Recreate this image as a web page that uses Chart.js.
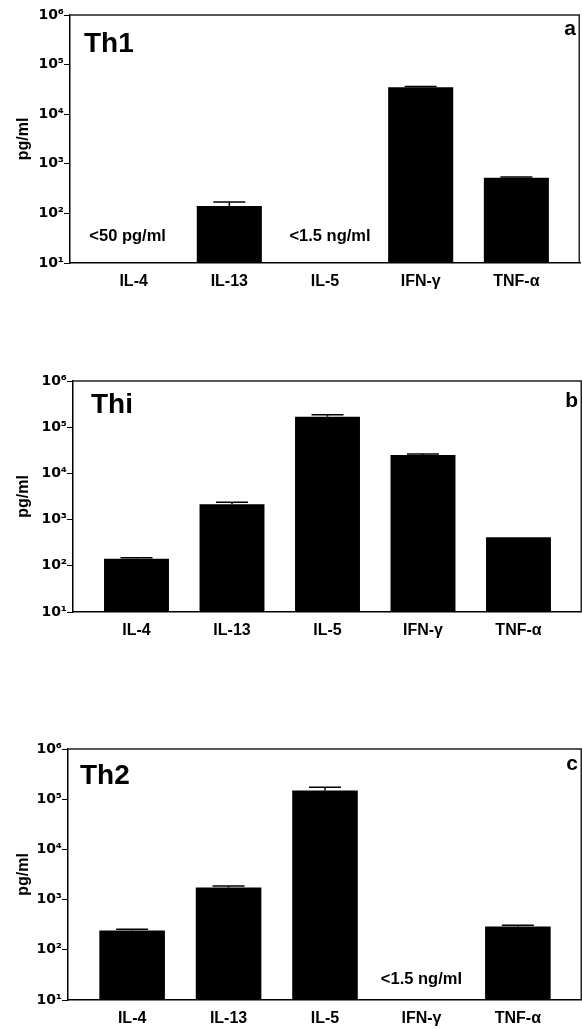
<!DOCTYPE html>
<html><head><meta charset="utf-8">
<script src="https://cdn.jsdelivr.net/npm/chart.js@4"></script>
<style>
html,body{margin:0;padding:0;background:#fff;}
#wrap{position:relative;width:582px;height:1029px;overflow:hidden;background:#fff;}
canvas{position:absolute;left:0;top:0;}
</style></head><body>
<div id="wrap">
<canvas id="ca" width="582" height="1029"></canvas>
<canvas id="cb" width="582" height="1029"></canvas>
<canvas id="cc" width="582" height="1029"></canvas>
</div>
<script>
const categories = ['IL-4', 'IL-13', 'IL-5', 'IFN-γ', 'TNF-α'];
const yTickValues = [10, 100, 1000, 10000, 100000, 1000000];
const yTickLabels = ['10¹', '10²', '10³', '10⁴', '10⁵', '10⁶'];

const th1Values = [null, 141, null, 34800, 525];
const th1Errors = [null, 170, null, 36300, 542];
const th1Notes = [[0, '<50 pg/ml'], [2, '<1.5 ng/ml']];

const thiValues = [142, 2150, 168000, 24900, 417];
const thiErrors = [150, 2380, 185000, 26200, null];
const thiNotes = [];

const th2Values = [241, 1745, 148600, null, 290];
const th2Errors = [257, 1860, 173000, null, 309];
const th2Notes = [[3, '<1.5 ng/ml']];

const FONT = "'Liberation Sans', Arial, Helvetica, sans-serif";
const TICKFONT = "'DejaVu Sans', 'Liberation Sans', sans-serif";
Chart.defaults.font.family = FONT;
Chart.defaults.font.weight = 'bold';
Chart.defaults.color = '#000';

function makePanel(id, values, errors, notes, title, letter, g) {
  const data = values.map((v, i) => ({ x: i, y: v }));
  const deco = {
    id: 'deco' + id,
    afterDatasetsDraw(chart) {
      const ctx = chart.ctx;
      const ys = chart.scales.y;
      const meta = chart.getDatasetMeta(0);
      ctx.save();
      ctx.strokeStyle = '#000';
      ctx.lineWidth = 1.5;
      errors.forEach((e, i) => {
        if (e == null || values[i] == null) return;
        const el = meta.data[i];
        const yc = ys.getPixelForValue(e);
        ctx.beginPath();
        ctx.moveTo(el.x, el.y);
        ctx.lineTo(el.x, yc);
        ctx.moveTo(el.x - 16, yc);
        ctx.lineTo(el.x + 16, yc);
        ctx.stroke();
      });
      ctx.restore();
    },
    afterDraw(chart) {
      const ctx = chart.ctx;
      const a = chart.chartArea;
      const xs = chart.scales.x;
      ctx.save();
      ctx.strokeStyle = '#222';
      ctx.lineWidth = 1.5;
      ctx.beginPath();
      ctx.moveTo(a.left, a.top);
      ctx.lineTo(a.right - 0.75, a.top);
      ctx.lineTo(a.right - 0.75, a.bottom);
      ctx.stroke();
      ctx.fillStyle = '#000';
      ctx.font = 'bold 28px ' + FONT;
      ctx.textAlign = 'left';
      ctx.textBaseline = 'alphabetic';
      ctx.fillText(title, g.tx, g.ty);
      ctx.font = 'bold 21px ' + FONT;
      ctx.textAlign = 'right';
      ctx.fillText(letter, g.lx, g.ly);
      ctx.font = 'bold 16.5px ' + FONT;
      ctx.textAlign = 'center';
      ctx.textBaseline = 'middle';
      notes.forEach((n, k) => {
        ctx.fillText(n[1], xs.getPixelForValue(n[0]) + g.ndx[k], a.bottom - g.ndy);
      });
      ctx.restore();
    }
  };
  return new Chart(document.getElementById(id), {
    type: 'bar',
    data: { datasets: [{ data, backgroundColor: '#000', borderWidth: 0, barPercentage: 0.68, categoryPercentage: 1 }] },
    options: {
      responsive: false, animation: false, devicePixelRatio: 1,
      layout: { padding: { left: 0, top: g.top, right: 582 - g.right, bottom: 1029 - g.bottom - g.xh } },
      plugins: { legend: { display: false }, tooltip: { enabled: false } },
      scales: {
        x: {
          type: 'linear', min: -0.665, max: 4.665, offset: false,
          grid: { display: false, drawTicks: false },
          border: { display: true, color: '#000', width: 1.5 },
          afterBuildTicks: s => { s.ticks = categories.map((c, i) => ({ value: i })); },
          afterFit: s => { s.height = g.xh; },
          ticks: { callback: v => categories[v], color: '#000', font: { size: 16, weight: 'bold' }, padding: 9, maxRotation: 0, autoSkip: false }
        },
        y: {
          type: 'logarithmic', min: 10, max: 1000000,
          afterBuildTicks: s => { s.ticks = yTickValues.map(v => ({ value: v })); },
          afterFit: s => { s.width = g.left; },
          ticks: { callback: v => yTickLabels[yTickValues.indexOf(v)], color: '#000', font: { family: TICKFONT, size: 14, weight: 'bold' }, padding: 0, autoSkip: false },
          grid: { drawOnChartArea: false, drawTicks: true, tickLength: 6, color: '#000', lineWidth: 1 },
          border: { display: true, color: '#000', width: 1.5 },
          title: { display: true, text: 'pg/ml', color: '#000', font: { size: 16, weight: 'bold' }, padding: { top: 14, bottom: 0 } }
        }
      }
    },
    plugins: [deco]
  });
}

makePanel('ca', th1Values, th1Errors, th1Notes, 'Th1', 'a',
  { left: 70, top: 15, right: 580, bottom: 263, xh: 34, tx: 84, ty: 52, lx: 576, ly: 35, ndx: [-6, 5], ndy: 27 });
makePanel('cb', thiValues, thiErrors, thiNotes, 'Thi', 'b',
  { left: 73, top: 381, right: 582, bottom: 612, xh: 34, tx: 91, ty: 413, lx: 578, ly: 407, ndx: [], ndy: 26 });
makePanel('cc', th2Values, th2Errors, th2Notes, 'Th2', 'c',
  { left: 68, top: 749, right: 582, bottom: 1000, xh: 28, tx: 80, ty: 784, lx: 578, ly: 770, ndx: [0], ndy: 21 });
</script>
</body></html>
